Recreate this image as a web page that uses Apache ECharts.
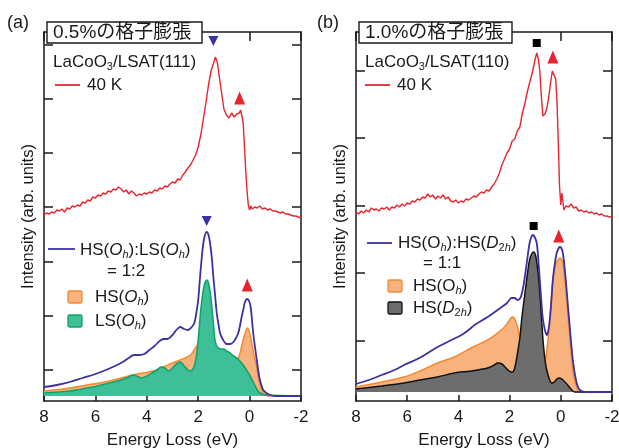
<!DOCTYPE html>
<html><head><meta charset="utf-8">
<script src="https://cdn.jsdelivr.net/npm/echarts@6/dist/echarts.min.js"></script>
<style>html,body{margin:0;padding:0;background:#fff}#c{width:619px;height:448px}</style>
</head><body><div id="c"></div>
<script>
// ---------------- DATA ----------------
const xTickLabels = ['8','6','4','2','0','-2'];
const yTicksA = [31, 85, 139, 194, 248, 302, 356];
const yTicksB = [60, 128, 195, 263, 330];
const topTicks = [8, 0, -2];

// (a) experiment, 40 K
const aExpE = [8.0,7.9,7.8,7.7,7.6,7.5,7.4,7.3,7.2,7.1,7.0,6.9,6.8,6.7,6.6,6.5,6.4,6.3,6.2,6.1,6.0,5.9,5.8,5.7,5.6,5.5,5.4,5.3,5.2,5.1,5.0,4.9,4.8,4.7,4.6,4.5,4.4,4.3,4.2,4.1,4.0,3.9,3.8,3.7,3.6,3.5,3.4,3.3,3.2,3.1,3.0,2.9,2.8,2.7,2.6,2.5,2.4,2.3,2.2,2.1,2.0,1.9,1.8,1.7,1.6,1.5,1.4,1.33,1.25,1.2,1.1,1.0,0.9,0.8,0.7,0.6,0.5,0.4,0.35,0.3,0.25,0.2,0.15,0.1,0.05,0.0,-0.05,-0.1,-0.2,-0.3,-0.4,-0.5,-0.6,-0.7,-0.8,-0.9,-1.0,-1.1,-1.2,-1.3,-1.4,-1.5,-1.6,-1.7,-1.8,-1.9,-2.0];
const aExpI = [186,188,187,189,188,191,190,192,189,193,192,195,194,196,195,199,198,201,200,204,203,206,205,208,207,210,209,212,211,214,212,209,211,207,210,208,205,207,206,208,207,209,208,211,210,213,212,215,214,217,219,218,222,221,226,229,233,236,241,246,254,266,282,298,316,330,338,344,338,328,310,292,286,283,288,284,287,288,291,285,278,255,230,210,196,191,195,192,194,193,195,192,193,191,192,190,190,189,188,189,187,187,186,185,185,184,183];

// (a) calculation: HS(Oh):LS(Oh) = 1:2
const aSumE = [8.0,7.5,7.0,6.5,6.0,5.5,5.0,4.7,4.5,4.3,4.1,3.9,3.7,3.5,3.35,3.2,3.0,2.85,2.7,2.55,2.4,2.25,2.15,2.06,2.0,1.94,1.87,1.78,1.67,1.6,1.54,1.47,1.41,1.34,1.28,1.2,1.15,1.05,0.89,0.75,0.63,0.53,0.44,0.37,0.31,0.24,0.18,0.09,0.02,-0.04,-0.09,-0.14,-0.21,-0.28,-0.34,-0.4,-0.47,-0.53,-0.65,-0.8,-1.0,-2.0];
const aSumI = [14,16,19,23,27,32,38,43,46,46,47,51,55,60,62,62,66,71,74,72,71,74,78,90,101,120,141,161,169,166,158,143,124,105,88,75,68,62,57,57,59,63,68,76,84,92,99,102,100,94,82,68,54,41,30,21,15,11,8,6,5,5];
const aHSE = [8.0,7.0,6.1,5.45,5.0,4.55,4.16,3.76,3.37,3.0,2.7,2.3,2.06,1.95,1.85,1.7,1.5,1.2,1.0,0.7,0.55,0.45,0.37,0.3,0.22,0.15,0.09,0.02,-0.08,-0.17,-0.27,-0.35,-0.43,-0.52,-0.6,-0.75,-2.0];
const aHSI = [10,13,17,20,23,26,28,30,34,38,41,46,55,57,56,52,45,38,34,32,36,42,48,56,64,70,73,70,58,46,35,23,14,9,7,5,5];
const aLSE = [8.0,7.0,6.1,5.45,5.0,4.7,4.55,4.4,4.2,4.0,3.8,3.6,3.45,3.3,3.15,3.0,2.85,2.7,2.55,2.4,2.32,2.2,2.12,2.05,2.0,1.95,1.9,1.85,1.8,1.73,1.66,1.6,1.53,1.47,1.41,1.35,1.28,1.22,1.1,1.02,0.9,0.76,0.63,0.5,0.38,0.25,0.12,0.0,-0.1,-0.2,-0.3,-0.4,-0.5,-0.6,-2.0];
const aLSI = [8,10,14,18,21,24,26,25,23,25,28,31,34,33,30,33,37,39,35,31,30,32,38,48,61,76,91,102,111,119,121,118,108,94,78,61,55,53,52,52,50,48,45,43,40,36,31,26,21,16,11,8,7,6,5];

// (b) experiment, 40 K
const bExpE = [8.0,7.9,7.8,7.7,7.6,7.5,7.4,7.3,7.2,7.1,7.0,6.9,6.8,6.7,6.6,6.5,6.4,6.3,6.2,6.1,6.0,5.9,5.8,5.7,5.6,5.5,5.4,5.3,5.2,5.1,5.0,4.9,4.8,4.7,4.6,4.5,4.4,4.3,4.2,4.1,4.0,3.9,3.8,3.7,3.6,3.5,3.4,3.3,3.2,3.1,3.0,2.9,2.8,2.7,2.6,2.5,2.4,2.3,2.2,2.1,2.0,1.9,1.8,1.7,1.6,1.5,1.4,1.3,1.2,1.1,1.0,0.94,0.88,0.82,0.76,0.7,0.62,0.55,0.47,0.4,0.33,0.28,0.2,0.15,0.1,0.05,0.0,-0.04,-0.08,-0.12,-0.2,-0.3,-0.4,-0.5,-0.6,-0.7,-0.8,-0.9,-1.0,-1.1,-1.2,-1.3,-1.4,-1.5,-1.6,-1.7,-1.8,-1.9,-2.0];
const bExpI = [189,187,190,188,191,189,193,191,192,190,193,192,194,191,194,193,196,194,197,195,198,197,200,199,202,201,204,203,207,204,206,202,205,203,206,202,204,200,199,201,198,200,199,202,201,203,205,204,207,209,208,211,210,214,217,222,228,236,242,248,252,260,262,270,274,288,298,310,320,330,342,348,342,330,305,285,287,292,304,318,330,332,322,300,260,215,196,208,200,191,195,194,197,193,194,190,191,189,190,188,189,187,188,186,187,185,185,184,184];

// (b) calculation: HS(Oh):HS(D2h) = 1:1
const bSumE = [8.0,7.5,7.0,6.5,6.12,5.45,4.82,4.5,4.27,3.88,3.6,3.37,2.86,2.31,2.1,1.92,1.8,1.69,1.58,1.49,1.4,1.33,1.22,1.15,1.1,1.02,0.94,0.88,0.82,0.76,0.71,0.63,0.55,0.49,0.43,0.37,0.31,0.23,0.16,0.08,0.04,-0.02,-0.08,-0.17,-0.27,-0.37,-0.47,-0.57,-0.67,-0.8,-0.94,-2.0];
const bSumI = [17,21,26,31,36,44,54,58,61,66,71,76,84,94,98,103,103,101,103,111,125,138,158,164,166,164,158,142,121,100,84,72,66,70,81,100,121,138,148,153,154,153,148,128,98,68,41,24,14,10,9,9];
const bHSOE = [8.0,7.0,6.12,5.5,4.82,4.16,3.5,2.86,2.47,2.2,2.08,1.95,1.88,1.8,1.69,1.6,1.53,1.45,1.3,1.1,0.9,0.75,0.65,0.57,0.5,0.43,0.37,0.31,0.23,0.16,0.08,0.04,-0.02,-0.08,-0.17,-0.27,-0.37,-0.47,-0.57,-0.67,-0.8,-2.0];
const bHSOI = [14,19,24,30,38,44,53,61,68,74,78,83,84,82,74,63,54,45,38,33,31,32,36,46,62,81,102,121,134,139,142,143,142,138,118,88,58,31,18,11,9,9];
const bHSDE = [8.0,7.0,6.12,5.5,4.82,4.16,3.5,2.86,2.6,2.47,2.3,2.1,1.95,1.88,1.8,1.69,1.6,1.53,1.45,1.37,1.3,1.22,1.14,1.06,0.98,0.9,0.82,0.75,0.68,0.6,0.55,0.45,0.35,0.25,0.16,0.04,-0.08,-0.2,-0.3,-0.43,-0.55,-2.0];
const bHSDI = [12,15,18,21,24,28,30,33,36,38,37,32,29,29,33,48,63,81,98,114,128,141,147,149,145,131,108,81,56,38,31,22,18,19,22,23,21,18,15,11,9,9];

// peak markers [energy, intensity]
const aDownE = [1.41, 1.67], aDownI = [360, 180];
const aUpE = [0.39, 0.09], aUpI = [303, 116];
const bSqE = [0.94, 1.06], bSqI = [358, 175];
const bUpE = [0.31, 0.08], bUpI = [344, 165];

// ---------------- CHART ----------------
const FAM = '"Liberation Sans", Arial, Helvetica, sans-serif';
const JFAM = '"Liberation Sans", "Noto Sans CJK JP", sans-serif';
const INK = '#1a1a1a';
const RED = '#e8252e', BLUE = '#3a32a3';
const OR_F = '#f7b27d', OR_L = '#f28a33';
const GR_F = '#3fbf98', GR_L = '#10a36c';
const BK_F = '#6d6d6d', BK_L = '#111111';
const zip = (E, I) => E.map((e, i) => [e, I[i]]);

const grids = [
  {left: 44, width: 257, top: 32, height: 369, outerBoundsMode: 'none', containLabel: false},
  {left: 356, width: 256, top: 32, height: 369, outerBoundsMode: 'none', containLabel: false}
];
const xAxes = [], yAxes = [];
[0, 1].forEach(g => {
  xAxes.push({gridIndex: g, type: 'value', min: -2, max: 8, interval: 2, inverse: true, position: 'bottom',
    axisLine: {onZero: false, lineStyle: {color: INK, width: 1.5}},
    axisTick: {inside: true, length: 6, lineStyle: {color: INK, width: 1.5}},
    axisLabel: {margin: 8, fontSize: 17, color: INK, fontFamily: FAM,
      formatter: v => xTickLabels[[8,6,4,2,0,-2].indexOf(v)]},
    splitLine: {show: false},
    name: 'Energy Loss (eV)', nameLocation: 'middle', nameGap: 31,
    nameTextStyle: {fontSize: 17, color: INK, fontFamily: FAM}});
  xAxes.push({gridIndex: g, type: 'value', min: -2, max: 8, inverse: true, position: 'top',
    axisLine: {onZero: false, lineStyle: {color: INK, width: 1.5}},
    axisTick: {inside: true, length: 9, customValues: topTicks, lineStyle: {color: INK, width: 1.5}},
    axisLabel: {show: false}, splitLine: {show: false}});
  const yt = g === 0 ? yTicksA : yTicksB;
  yAxes.push({gridIndex: g, type: 'value', min: 0, max: 369, position: 'left',
    axisLine: {onZero: false, lineStyle: {color: INK, width: 1.5}},
    axisTick: {inside: true, length: 9, customValues: yt, lineStyle: {color: INK, width: 1.5}},
    axisLabel: {show: false}, splitLine: {show: false},
    name: 'Intensity (arb. units)', nameLocation: 'middle', nameGap: 7, nameRotate: 90,
    nameTextStyle: {fontSize: 16.5, color: INK, fontFamily: FAM}});
  yAxes.push({gridIndex: g, type: 'value', min: 0, max: 369, position: 'right',
    axisLine: {onZero: false, lineStyle: {color: INK, width: 1.5}},
    axisTick: {inside: true, length: 9, customValues: yt, lineStyle: {color: INK, width: 1.5}},
    axisLabel: {show: false}, splitLine: {show: false}});
});

function ln(g, data, color, width, fill, origin, smooth, z) {
  const s = {type: 'line', xAxisIndex: g * 2, yAxisIndex: g * 2, data, showSymbol: false, symbol: 'none',
    smooth: smooth, lineStyle: {color, width}, silent: true, z: z};
  if (fill) s.areaStyle = {color: fill, opacity: 1, origin: origin};
  return s;
}
function mk(g, E, I, symbol, color, size, rot) {
  return {type: 'scatter', xAxisIndex: g * 2, yAxisIndex: g * 2, data: zip(E, I), symbol, symbolSize: size,
    symbolRotate: rot || 0, itemStyle: {color, opacity: 1}, silent: true, z: 6};
}

const series = [
  ln(0, zip(aHSE, aHSI), OR_L, 1.5, OR_F, 5, 0.35, 2),
  ln(0, zip(aLSE, aLSI), GR_L, 1.6, GR_F, 5, 0.35, 3),
  ln(0, zip(aSumE, aSumI), BLUE, 1.8, null, 0, 0.35, 4),
  ln(0, zip(aExpE, aExpI), RED, 1.4, null, 0, false, 4),
  mk(0, aDownE, aDownI, 'triangle', BLUE, [10, 10], 180),
  mk(0, aUpE, aUpI, 'triangle', RED, [11, 13], 0),
  ln(1, zip(bHSOE, bHSOI), OR_L, 1.5, OR_F, 9, 0.35, 2),
  ln(1, zip(bHSDE, bHSDI), BK_L, 1.5, BK_F, 9, 0.35, 3),
  ln(1, zip(bSumE, bSumI), BLUE, 1.8, null, 0, 0.35, 4),
  ln(1, zip(bExpE, bExpI), RED, 1.4, null, 0, false, 4),
  mk(1, bSqE, bSqI, 'rect', '#000', [8, 8], 0),
  mk(1, bUpE, bUpI, 'triangle', RED, [11, 13], 0)
];

// ----- rich text helpers (subscripts / italics) -----
const ctx = document.createElement('canvas').getContext('2d');
function tw(t, font) { ctx.font = font; return ctx.measureText(t).width; }
function rich(x, y, segs, size) {
  const out = []; let cx = x;
  segs.forEach(sg => {
    const t = sg[0], f = sg[1] || '';
    const sub = f.indexOf('s') >= 0, it = f.indexOf('i') >= 0;
    const sz = sub ? Math.round(size * 0.66) : size;
    const font = (it ? 'italic ' : '') + sz + 'px ' + FAM;
    out.push({type: 'text', x: cx, y: y + (sub ? size * 0.3 : 0), z: 10,
      style: {text: t, font, fill: INK, textAlign: 'left', textVerticalAlign: 'middle', align: 'left', verticalAlign: 'middle'}});
    cx += tw(t, font);
  });
  return out;
}
function plain(x, y, t, size, fam) {
  return {type: 'text', x, y, z: 10, style: {text: t, font: size + 'px ' + (fam || FAM), fill: INK,
    textAlign: 'left', textVerticalAlign: 'middle', align: 'left', verticalAlign: 'middle'}};
}
function hline(x1, x2, y, color) {
  return {type: 'line', z: 10, shape: {x1, y1: y, x2, y2: y}, style: {stroke: color, lineWidth: 1.8}};
}
function swatch(x, y, fill, stroke) {
  return {type: 'rect', z: 10, shape: {x, y: y - 6, width: 14, height: 12, r: 1.5}, style: {fill, stroke, lineWidth: 1.3}};
}
function box(x, y, w, h) {
  return {type: 'rect', z: 9, shape: {x, y, width: w, height: h}, style: {fill: '#fff', stroke: INK, lineWidth: 1.4}};
}

const S = 17;
const graphic = [].concat(
  [plain(7, 23, '(a)', 18), plain(317, 23, '(b)', 18)],
  [box(47, 22, 155, 21), plain(53, 33, '0.5%の格子膨張', 19, JFAM)],
  [box(359, 22, 153, 21), plain(365, 33, '1.0%の格子膨張', 19, JFAM)],
  rich(53, 62, [['LaCoO'], ['3', 's'], ['/LSAT(111)']], S),
  rich(365, 62, [['LaCoO'], ['3', 's'], ['/LSAT(110)']], S),
  [hline(55, 80, 85, RED), plain(87, 85, '40 K', S)],
  [hline(365, 390, 85, RED), plain(397, 85, '40 K', S)],
  // (a) lower legend
  [hline(48, 75, 249, BLUE)],
  rich(80, 250, [['HS('], ['O', 'i'], ['h', 'is'], [')'], [':LS('], ['O', 'i'], ['h', 'is'], [')']], S),
  [plain(107, 271, '= 1:2', S)],
  [swatch(68, 297, OR_F, OR_L)],
  rich(95, 297, [['HS('], ['O', 'i'], ['h', 'is'], [')']], S),
  [swatch(68, 321, GR_F, GR_L)],
  rich(95, 321, [['LS('], ['O', 'i'], ['h', 'is'], [')']], S),
  // (b) lower legend
  [hline(367, 392, 243, BLUE)],
  rich(398, 243, [['HS(O'], ['h', 'is'], [')'], [':HS('], ['D', 'i'], ['2', 's'], ['h', 'is'], [')']], S),
  [plain(423, 263, '= 1:1', S)],
  [swatch(388, 286, OR_F, OR_L)],
  rich(413, 286, [['HS(O'], ['h', 'is'], [')']], S),
  [swatch(388, 308, BK_F, BK_L)],
  rich(413, 308, [['HS('], ['D', 'i'], ['2', 's'], ['h', 'is'], [')']], S)
);

const chart = echarts.init(document.getElementById('c'), null, {renderer: 'canvas'});
chart.setOption({
  animation: false, backgroundColor: '#fff',
  grid: grids, xAxis: xAxes, yAxis: yAxes, series, graphic
});
</script></body></html>
